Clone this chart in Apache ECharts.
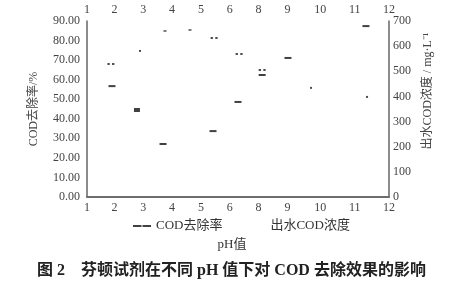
<!DOCTYPE html>
<html><head><meta charset="utf-8">
<script src="https://cdn.jsdelivr.net/npm/echarts@6/dist/echarts.min.js"></script>
<style>html,body{margin:0;padding:0;background:#fff}#c{width:465px;height:283px}</style>
</head><body><div id="c"></div>
<script>
// x tick labels (pH values as printed) and where they sit on the linear axis
const tickLabels = ['1', '2', '3', '4', '5', '6', '8', '9', '10', '11', '12'];
const tickPos = [1, 2, 3.05, 4.1, 5.15, 6.2, 7.25, 8.3, 9.5, 10.75, 12];

// COD removal rate (%) - left axis
const ratePH = [1.91, 3.77, 5.59, 6.50, 7.38, 8.32, 11.16];
const rateVal = [56.7, 27.1, 33.7, 48.6, 62.4, 71.1, 87.4];
const rateWidePH = [2.82];
const rateWideVal = [44.5];
const rateShortPH = [3.84, 4.75];
const rateShortVal = [84.9, 85.4];

// effluent COD (mg/L) - right axis
const codPH = [1.87, 5.63, 6.54, 7.38];
const codVal = [529, 632, 569, 505];
const codDotPH = [2.93, 9.16, 11.2];
const codDotVal = [581, 434, 398];

const zip = (xs, ys) => xs.map((x, i) => [x, ys[i]]);
const FONT = '"Liberation Serif", "Noto Sans CJK SC", serif';
const labelFmt = v => {
  let best = 0;
  tickPos.forEach((p, i) => { if (Math.abs(p - v) < Math.abs(tickPos[best] - v)) best = i; });
  return tickLabels[best];
};
const axisLineStyle = { show: true, lineStyle: { color: '#666', width: 1.5 } };
const xCommon = {
  type: 'value', min: 1, max: 12,
  axisLine: axisLineStyle,
  axisTick: { show: false },
  splitLine: { show: false },
  axisLabel: { customValues: tickPos, formatter: labelFmt, fontFamily: FONT, fontSize: 12, color: '#444', margin: 5 }
};

const chart = echarts.init(document.getElementById('c'), null, { renderer: 'canvas' });
chart.setOption({
  animation: false,
  backgroundColor: '#fff',
  title: {
    text: '图 2\u3000芬顿试剂在不同 pH 值下对 COD 去除效果的影响',
    left: 32, top: 258,
    textStyle: { fontFamily: FONT, fontSize: 16, fontWeight: 'bold', color: '#222' }
  },
  legend: {
    left: 128, top: 214,
    itemWidth: 18, itemHeight: 14, itemGap: 25,
    textStyle: { fontFamily: FONT, fontSize: 13, color: '#333' },
    data: [
      { name: 'COD去除率', icon: 'path://M0,0H8V2H0Z M9,0H17V2H9Z' },
      { name: '出水COD浓度', icon: 'none' }
    ]
  },
  grid: { left: 87, right: 76, top: 21, bottom: 86 },
  xAxis: [
    Object.assign({}, xCommon, {
      position: 'bottom',
      name: 'pH值', nameLocation: 'middle', nameGap: 41,
      nameTextStyle: { fontFamily: FONT, fontSize: 13, color: '#333', padding: [0, 12, 0, 0] }
    }),
    Object.assign({}, xCommon, { position: 'top' })
  ],
  yAxis: [
    {
      type: 'value', min: 0, max: 90, interval: 10, position: 'left',
      name: 'COD去除率/%', nameLocation: 'middle', nameGap: 47,
      nameTextStyle: { fontFamily: FONT, fontSize: 12, color: '#444' },
      axisLine: axisLineStyle, axisTick: { show: false }, splitLine: { show: false },
      axisLabel: { formatter: v => v.toFixed(2), fontFamily: FONT, fontSize: 12, color: '#444', margin: 7 }
    },
    {
      type: 'value', min: 0, max: 700, interval: 100, position: 'right',
      name: '出水COD浓度 / mg·L⁻¹', nameLocation: 'middle', nameGap: 27,
      nameTextStyle: { fontFamily: FONT, fontSize: 12, color: '#444', padding: [0, 0, 0, 36] },
      axisLine: axisLineStyle, axisTick: { show: false }, splitLine: { show: false },
      axisLabel: { fontFamily: FONT, fontSize: 12, color: '#444', margin: 4 }
    }
  ],
  series: [
    { name: 'COD去除率', type: 'scatter', yAxisIndex: 0, symbol: 'rect', symbolSize: [7, 2],
      itemStyle: { color: '#111' }, data: zip(ratePH, rateVal) },
    { name: 'COD去除率', type: 'scatter', yAxisIndex: 0, symbol: 'rect', symbolSize: [6, 4],
      itemStyle: { color: '#111' }, data: zip(rateWidePH, rateWideVal) },
    { name: 'COD去除率', type: 'scatter', yAxisIndex: 0, symbol: 'rect', symbolSize: [3, 1.5],
      itemStyle: { color: '#222' }, data: zip(rateShortPH, rateShortVal) },
    { name: '出水COD浓度', type: 'scatter', yAxisIndex: 1, symbol: 'path://M0,0H2V2H0Z M4,0H6V2H4Z',
      symbolSize: [7, 2], symbolKeepAspect: false,
      itemStyle: { color: '#222' }, data: zip(codPH, codVal) },
    { name: '出水COD浓度', type: 'scatter', yAxisIndex: 1, symbol: 'rect', symbolSize: [2, 2],
      itemStyle: { color: '#222' }, data: zip(codDotPH, codDotVal) }
  ]
});
</script></body></html>
